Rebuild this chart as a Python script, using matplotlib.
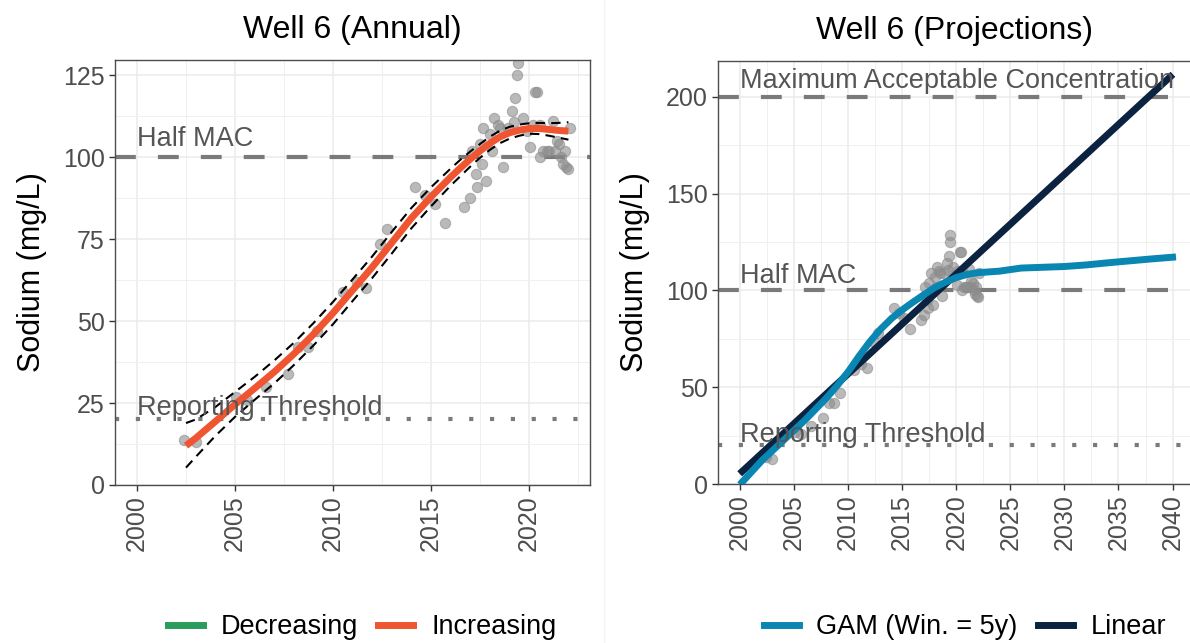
import matplotlib
matplotlib.use("Agg")
import matplotlib.pyplot as plt
import numpy as np
from matplotlib.lines import Line2D

plt.rcParams["font.family"] = ["Liberation Sans", "DejaVu Sans"]

# ---------------------------------------------------------------------------
# Data
# ---------------------------------------------------------------------------
obs_year = [2002.4, 2003.0, 2005.05, 2005.6, 2006.6, 2007.7, 2008.2, 2008.7,
            2009.2, 2010.5, 2011.2, 2011.7, 2012.4, 2012.75, 2014.2, 2014.7,
            2015.2, 2015.7, 2016.7, 2017.0, 2017.35, 2017.8, 2017.3, 2017.6,
            2017.1, 2017.5, 2017.65, 2018.1, 2018.0, 2018.2, 2018.4, 2018.65,
            2018.5, 2018.9, 2019.1, 2019.3, 2019.4, 2019.45, 2019.2, 2019.7,
            2019.9, 2020.05, 2020.2, 2020.3, 2020.4, 2020.55, 2020.55, 2020.7,
            2020.9, 2021.0, 2021.2, 2021.3, 2021.4, 2021.5, 2021.6, 2021.7,
            2021.8, 2021.9, 2022.0, 2022.1]
obs_sodium = [13.7, 13.1, 27.0, 25.9, 29.9, 34.0, 42.0, 42.0,
              47.0, 58.8, 62.0, 60.0, 73.5, 78.0, 91.0, 88.4,
              85.7, 80.0, 84.8, 87.5, 91.0, 92.7, 95.0, 98.0,
              102.0, 104.0, 109.0, 102.0, 107.0, 112.0, 110.0, 97.0,
              109.0, 109.0, 114.0, 118.0, 125.0, 128.7, 110.7, 112.0,
              108.0, 103.0, 110.0, 120.0, 120.0, 110.0, 100.0, 102.0,
              102.0, 102.0, 111.0, 102.0, 105.0, 104.0, 100.0, 98.0,
              102.0, 97.0, 96.4, 109.0]

# annual GAM fit with confidence band
fit_year = [2002.5, 2003, 2004, 2005, 2006, 2007, 2008, 2009, 2010, 2011,
            2012, 2013, 2014, 2015, 2016, 2016.5, 2017, 2017.5, 2018, 2018.5,
            2019, 2019.5, 2020, 2020.5, 2021, 2021.5, 2022]
fit_mid = [12.0, 14.3, 19.4, 24.6, 29.5, 34.5, 40.0, 46.0, 52.5, 59.5,
           66.5, 74.0, 81.5, 88.0, 94.0, 96.8, 99.5, 102.0, 104.3, 106.2,
           107.5, 108.3, 108.8, 108.8, 108.5, 108.2, 108.0]
fit_upper = [18.9, 20.0, 23.8, 28.4, 33.0, 38.0, 43.4, 49.4, 55.9, 62.8,
             69.8, 77.3, 84.6, 90.9, 96.6, 99.3, 101.8, 104.1, 106.3, 108.1,
             109.3, 110.0, 110.4, 110.5, 110.4, 110.5, 110.7]
fit_lower = [5.3, 8.6, 15.0, 20.8, 26.0, 31.0, 36.6, 42.6, 49.1, 56.2,
             63.2, 70.7, 78.4, 85.1, 91.4, 94.3, 97.2, 99.9, 102.3, 104.3,
             105.7, 106.6, 107.2, 107.1, 106.6, 106.0, 105.4]

# projections
gam_year = [2000.2, 2002, 2004, 2006, 2008, 2009, 2010, 2011, 2012, 2013,
            2014, 2015, 2016, 2017, 2018, 2019, 2020, 2021, 2022, 2024,
            2026, 2028, 2030, 2032, 2034, 2036, 2038, 2040]
gam_value = [1.0, 12.0, 22.5, 33.0, 44.5, 51.0, 58.0, 66.0, 73.5, 80.0,
             85.5, 90.0, 94.0, 97.8, 101.5, 104.3, 106.7, 108.3, 109.2, 110.0,
             111.6, 112.0, 112.4, 113.2, 114.3, 115.3, 116.3, 117.2]
lin_year = [2000.2, 2039.8]
lin_value = [6.5, 210.5]

ref_levels = {"mac": 200, "half": 100, "report": 20}

GREEN = "#2A9D5C"
ORANGE = "#EE5530"
TEAL = "#0A86B3"
NAVY = "#0B2240"
GREY_PT = "#8c8c8c"
REF_GREY = "#7a7a7a"
LABEL_GREY = "#555555"


def style_axes(ax, xlim, ylim, xmaj, xmin, ymaj, ymin):
    ax.set_xlim(*xlim)
    ax.set_ylim(*ylim)
    ax.set_xticks(xmaj)
    ax.set_xticks(xmin, minor=True)
    ax.set_yticks(ymaj)
    ax.set_yticks(ymin, minor=True)
    ax.grid(which="major", color="#ebebeb", lw=1.1, zorder=0)
    ax.grid(which="minor", color="#f0f0f0", lw=0.7, zorder=0)
    ax.set_axisbelow(True)
    for sp in ax.spines.values():
        sp.set_color("#4d4d4d")
        sp.set_linewidth(1.0)
    ax.tick_params(which="major", length=4, width=1, color="#333333",
                   labelsize=18, labelcolor="#4d4d4d")
    ax.tick_params(which="minor", length=0)
    ax.tick_params(axis="x", labelrotation=90)
    ax.set_ylabel("Sodium (mg/L)", fontsize=22, color="black")
    ax.yaxis.set_label_coords(-0.143, 0.5)


fig = plt.figure(figsize=(11.9, 6.43), dpi=100)
W, H = 1190, 643
ax1 = fig.add_axes([115 / W, 1 - 485 / H, 475 / W, 425 / H])
ax2 = fig.add_axes([718 / W, 1 - 484 / H, 474 / W, 423 / H])

# ---------------------------------------------------------------------------
# Left panel: annual
# ---------------------------------------------------------------------------
style_axes(ax1, (1998.88, 2023.1), (0, 129.7),
           np.arange(2000, 2021, 5), np.arange(2002.5, 2023, 5),
           [0, 25, 50, 75, 100, 125], np.arange(12.5, 130, 25))

ax1.axhline(ref_levels["half"], color=REF_GREY, lw=3, ls=(0, (5, 5.3)), zorder=1)
ax1.axhline(ref_levels["report"], color=REF_GREY, lw=3, ls=(0, (1, 4)), zorder=1)
ax1.text(2000, 103.4, "Half MAC", fontsize=19.5, color=LABEL_GREY, va="baseline", zorder=5)
ax1.text(2000, 21.3, "Reporting Threshold", fontsize=19.5, color=LABEL_GREY,
         va="baseline", zorder=5)

ax1.scatter(obs_year, obs_sodium, s=55, color=GREY_PT, alpha=0.6,
            edgecolors=GREY_PT, linewidths=0.8, zorder=2)
ax1.plot(fit_year, fit_mid, color=ORANGE, lw=5, solid_capstyle="butt", zorder=3)
ax1.plot(fit_year, fit_upper, color="black", lw=1.5, ls=(0, (4.5, 3)), zorder=4)
ax1.plot(fit_year, fit_lower, color="black", lw=1.5, ls=(0, (4.5, 3)), zorder=4)
ax1.set_title("Well 6 (Annual)", fontsize=23, pad=16)

# ---------------------------------------------------------------------------
# Right panel: projections
# ---------------------------------------------------------------------------
style_axes(ax2, (1997.96, 2041.8), (0, 218.6),
           np.arange(2000, 2041, 5), np.arange(2002.5, 2042, 5),
           [0, 50, 100, 150, 200], np.arange(25, 220, 50))

ax2.axhline(ref_levels["mac"], color=REF_GREY, lw=3, ls=(0, (5, 5.3)), zorder=1)
ax2.axhline(ref_levels["half"], color=REF_GREY, lw=3, ls=(0, (5, 5.3)), zorder=1)
ax2.axhline(ref_levels["report"], color=REF_GREY, lw=3, ls=(0, (1, 4)), zorder=1)
ax2.text(2000, 204.6, "Maximum Acceptable Concentration", fontsize=19.5,
         color=LABEL_GREY, va="baseline", zorder=5)
ax2.text(2000, 104.0, "Half MAC", fontsize=19.5, color=LABEL_GREY, va="baseline", zorder=5)
ax2.text(2000, 21.5, "Reporting Threshold", fontsize=19.5, color=LABEL_GREY,
         va="baseline", zorder=5)

ax2.scatter(obs_year, obs_sodium, s=55, color=GREY_PT, alpha=0.6,
            edgecolors=GREY_PT, linewidths=0.8, zorder=2)
ax2.plot(lin_year, lin_value, color=NAVY, lw=5, zorder=3)
ax2.plot(gam_year, gam_value, color=TEAL, lw=5, zorder=4)
ax2.set_title("Well 6 (Projections)", fontsize=23, pad=16)

# faint separator between the two panels
fig.add_artist(Line2D([604 / W, 604 / W], [0, 1], transform=fig.transFigure,
                      color="#f3f3f3", lw=1))

# ---------------------------------------------------------------------------
# Legends
# ---------------------------------------------------------------------------
leg_kw = dict(loc="center", ncol=2, frameon=False, fontsize=19.5,
              handlelength=1.3, handletextpad=0.65, columnspacing=0.75)
h1 = [Line2D([], [], color=GREEN, lw=5), Line2D([], [], color=ORANGE, lw=5)]
fig.legend(h1, ["Decreasing", "Increasing"],
           bbox_to_anchor=(362 / W, 1 - 627 / H), **leg_kw)
h2 = [Line2D([], [], color=TEAL, lw=5), Line2D([], [], color=NAVY, lw=5)]
fig.legend(h2, ["GAM (Win. = 5y)", "Linear"],
           bbox_to_anchor=(965 / W, 1 - 627 / H), **leg_kw)

fig.savefig("out.png", dpi=100)
